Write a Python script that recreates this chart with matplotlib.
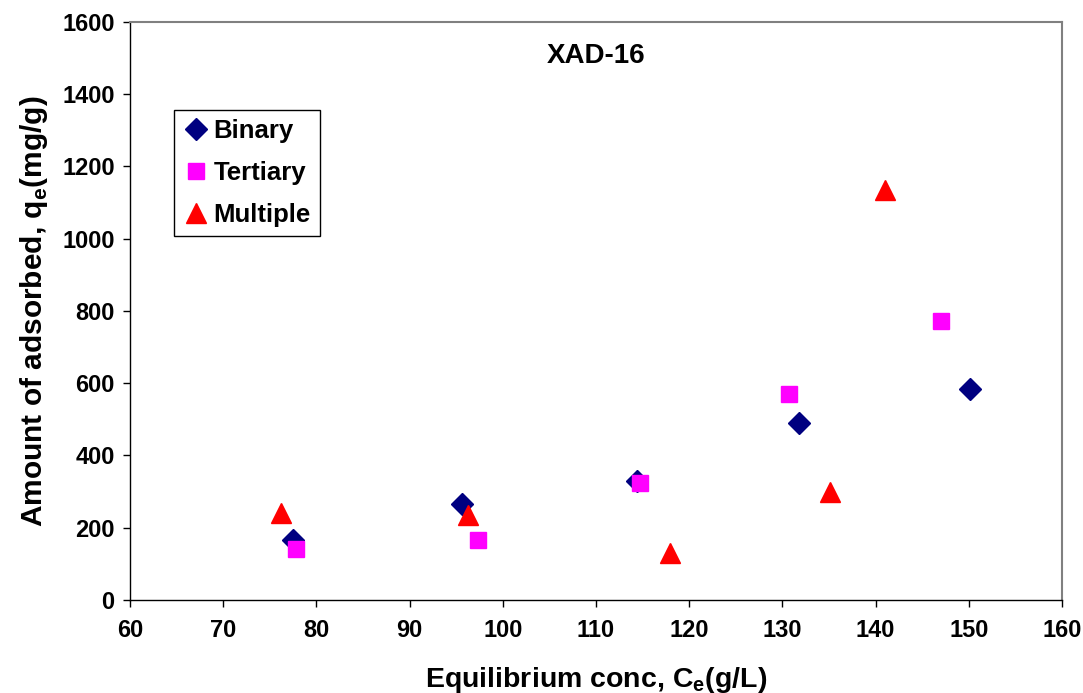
import matplotlib
matplotlib.use("Agg")
import matplotlib.pyplot as plt

plt.rcParams['font.family'] = ['Liberation Sans', 'DejaVu Sans']
plt.rcParams['font.weight'] = 'bold'
plt.rcParams['mathtext.fontset'] = 'custom'
plt.rcParams['mathtext.bf'] = 'Liberation Sans:bold'
plt.rcParams['mathtext.rm'] = 'Liberation Sans:bold'

# Equilibrium concentration (g/L) and amount adsorbed (mg/g) for each system
binary_ce = [77.5, 95.6, 114.4, 131.8, 150.1]
binary_qe = [166, 266, 330, 490, 584]

tertiary_ce = [77.8, 97.3, 114.7, 130.7, 147.0]
tertiary_qe = [141, 166, 324, 570, 773]

multiple_ce = [76.2, 96.3, 117.9, 135.1, 141.0]
multiple_qe = [241, 235, 130, 299, 1135]

x_ticks = list(range(60, 161, 10))
y_ticks = list(range(0, 1601, 200))

fig = plt.figure(figsize=(10.83, 6.93), dpi=100)
ax = fig.add_axes([0.12, 0.1342, 0.8606, 0.8341])

ax.plot(binary_ce, binary_qe, linestyle='none', marker='D', markersize=11,
        color='#000080', label='Binary')
ax.plot(tertiary_ce, tertiary_qe, linestyle='none', marker='s', markersize=12,
        color='#FF00FF', label='Tertiary')
ax.plot(multiple_ce, multiple_qe, linestyle='none', marker='^', markersize=14,
        color='#FF0000', label='Multiple')

ax.set_xlim(60, 160)
ax.set_ylim(0, 1600)
ax.set_xticks(x_ticks)
ax.set_yticks(y_ticks)
ax.tick_params(axis='both', direction='out', length=5, width=1, labelsize=17)
ax.tick_params(axis='x', pad=9)
ax.tick_params(axis='y', pad=6)
for lab in ax.get_xticklabels() + ax.get_yticklabels():
    lab.set_fontweight('bold')

for side in ('top', 'right'):
    ax.spines[side].set_color('#808080')
    ax.spines[side].set_linewidth(1.5)
for side in ('left', 'bottom'):
    ax.spines[side].set_color('black')
    ax.spines[side].set_linewidth(1)

ax.set_xlabel('Equilibrium conc, C$_\\mathregular{e}$(g/L)', fontsize=20.5, fontweight='bold', labelpad=16)
ax.set_ylabel('Amount of adsorbed, q$_\\mathregular{e}$(mg/g)', fontsize=21.5, fontweight='bold', labelpad=9)

ax.text(110, 1505, 'XAD-16', ha='center', va='center', fontsize=20, fontweight='bold')

leg = ax.legend(loc='upper left', bbox_to_anchor=(0.047, 0.848), frameon=True, fancybox=False,
                edgecolor='black', framealpha=1, prop={'size': 18.5, 'weight': 'bold'},
                handletextpad=0.2, handlelength=1.0, borderpad=0.35, labelspacing=0.7,
                borderaxespad=0)
leg.get_frame().set_linewidth(1)

fig.savefig('out.png', dpi=100)
